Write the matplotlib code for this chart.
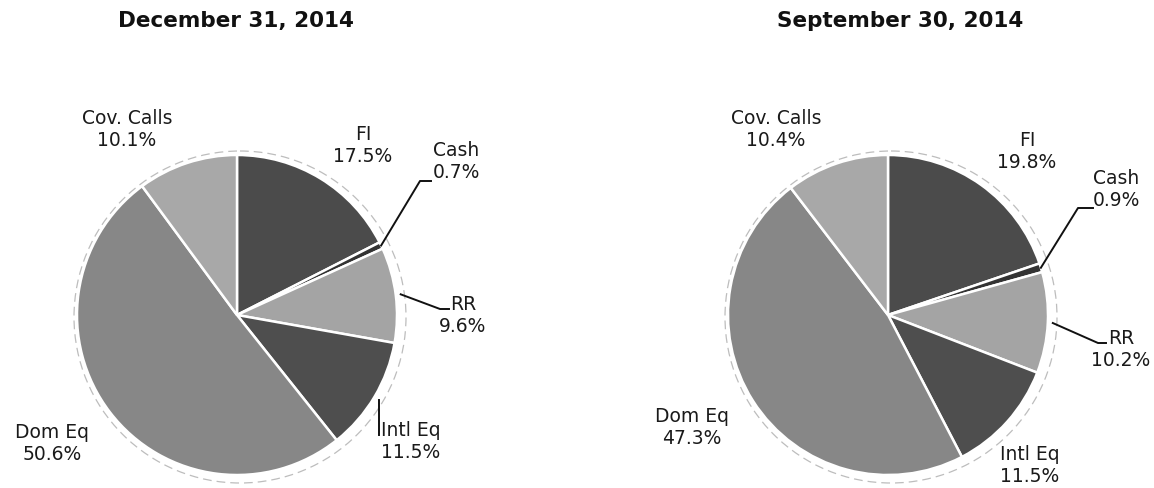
import numpy as np
import matplotlib
matplotlib.use("Agg")
import matplotlib.pyplot as plt

plt.rcParams['font.family'] = ['DejaVu Sans']

categories = ['FI', 'Cash', 'RR', 'Intl Eq', 'Dom Eq', 'Cov. Calls']
dec_values = [17.5, 0.7, 9.6, 11.5, 50.6, 10.1]
sep_values = [19.8, 0.9, 10.2, 11.5, 47.3, 10.4]
titles = ['December 31, 2014', 'September 30, 2014']
greys = ['#4b4b4b', '#333333', '#a4a4a4', '#4e4e4e', '#878787', '#a8a8a8']

fig = plt.figure(figsize=(11.54, 4.88), dpi=100)
ax = fig.add_axes([0, 0, 1, 1])

# pixel layout: centre x, centre y, radius, title x
pies = [(237, 315, 160, 236), (888, 315, 160, 900)]

# label block centres per chart
label_pos = [
    {'FI': (363, 146), 'Cash': (456, 162), 'RR': (463, 316),
     'Intl Eq': (411, 442), 'Dom Eq': (52, 444), 'Cov. Calls': (127, 130)},
    {'FI': (1027, 152), 'Cash': (1116, 190), 'RR': (1121, 350),
     'Intl Eq': (1030, 466), 'Dom Eq': (692, 427), 'Cov. Calls': (776, 130)},
]
# elbow + end of leader lines
leaders = [
    {'Cash': [(420, 181), (431, 181)], 'RR': [(440, 309), (449, 309)]},
    {'Cash': [(1078, 208), (1093, 208)], 'RR': [(1098, 343), (1106, 343)]},
]

for (cx, cy, r, tx), vals, title, lp, ld in zip(pies, [dec_values, sep_values],
                                                titles, label_pos, leaders):
    # faint dashed rim left by the 3D pie in the scan
    ring = plt.Circle((cx + 3, cy + 2), r + 6, fill=False, ec='#bdbdbd',
                      lw=0.9, ls=(0, (7, 4)))
    ax.add_patch(ring)
    wedges, _ = ax.pie(vals, colors=greys, startangle=-90, counterclock=True,
                       center=(cx, cy), radius=r, frame=True,
                       wedgeprops=dict(edgecolor='white', linewidth=1.8))
    ax.text(tx, 21, title, ha='center', va='center', fontsize=15.5,
            fontweight='bold', color='#111111')
    for name, v in zip(categories, vals):
        x, y = lp[name]
        ax.text(x, y, f'{name}\n{v:.1f}%', ha='center', va='center',
                fontsize=13.5, color='#1a1a1a', linespacing=1.2)
    for idx, name in enumerate(categories):
        if name not in ld:
            continue
        w = wedges[idx]
        ang = np.deg2rad((w.theta1 + w.theta2) / 2)
        rr = r if name == 'Cash' else r + 5
        pts = [(cx + rr * np.cos(ang), cy + rr * np.sin(ang))] + ld[name]
        xs, ys = zip(*pts)
        ax.plot(xs, ys, color='#111111', lw=1.4)

# little tick next to the left Intl Eq label
ax.plot([379, 379], [400, 435], color='#111111', lw=1.4)

ax.set_xlim(0, 1154)
ax.set_ylim(488, 0)
ax.set_aspect('auto')
ax.axis('off')
fig.savefig('out.png', dpi=100, facecolor='white')
